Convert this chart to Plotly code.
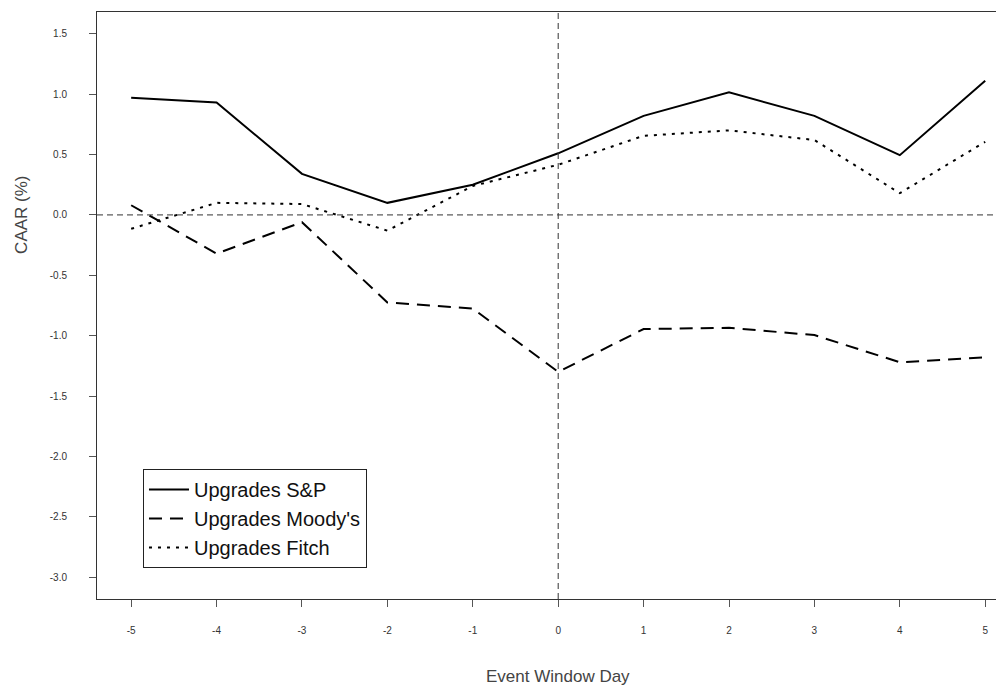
import plotly.graph_objects as go

days = [-5, -4, -3, -2, -1, 0, 1, 2, 3, 4, 5]
sp_vals = [0.97, 0.93, 0.34, 0.10, 0.25, 0.51, 0.82, 1.015, 0.82, 0.495, 1.11]
moodys_vals = [0.08, -0.32, -0.06, -0.725, -0.775, -1.30, -0.945, -0.935, -0.995, -1.22, -1.18]
fitch_vals = [-0.115, 0.10, 0.09, -0.13, 0.24, 0.415, 0.655, 0.70, 0.62, 0.18, 0.605]
series_names = ["Upgrades S&P", "Upgrades Moody's", "Upgrades Fitch"]
y_ticks = [1.5, 1.0, 0.5, 0.0, -0.5, -1.0, -1.5, -2.0, -2.5, -3.0]
y_ticklabels = ["1.5", "1.0", "0.5", "0.0", "-0.5", "-1.0", "-1.5", "-2.0", "-2.5", "-3.0"]

FONT = "Liberation Sans, Arial, sans-serif"

fig = go.Figure()
fig.add_trace(go.Scatter(x=days, y=sp_vals, mode="lines", name=series_names[0],
                         line=dict(color="black", width=2, dash="solid")))
fig.add_trace(go.Scatter(x=days, y=moodys_vals, mode="lines", name=series_names[1],
                         line=dict(color="black", width=2, dash="13px,8px")))
fig.add_trace(go.Scatter(x=days, y=fitch_vals, mode="lines", name=series_names[2],
                         line=dict(color="black", width=2, dash="3px,6px")))

# reference lines at 0
fig.add_hline(y=0, line=dict(color="#333333", width=1, dash="6px,4px"))
fig.add_vline(x=0, line=dict(color="#333333", width=1, dash="6px,4px"))

fig.update_layout(
    width=996, height=678,
    margin=dict(l=89, r=0, t=4, b=87),
    paper_bgcolor="white", plot_bgcolor="white",
    font=dict(family=FONT, color="#333333"),
    showlegend=True,
    legend=dict(x=0.0507, y=0.0528, xanchor="left", yanchor="bottom",
                bordercolor="#222222", borderwidth=1, bgcolor="white",
                font=dict(size=20, color="#111111", family=FONT),
                tracegroupgap=0, itemwidth=40),
    annotations=[
        dict(text="Event Window Day", x=0, xref="x", y=-0.132, yref="paper",
             xanchor="center", yanchor="middle", showarrow=False,
             font=dict(size=17, color="#444444", family=FONT)),
        dict(text="CAAR (%)", x=-0.0827, xref="paper", y=0.0, yref="y",
             xanchor="center", yanchor="middle", showarrow=False, textangle=-90,
             font=dict(size=17, color="#444444", family=FONT)),
    ],
)

fig.update_xaxes(range=[-5.4, 5.22], tickvals=days, ticktext=[str(d) for d in days],
                 showgrid=False, zeroline=False, showline=True, linecolor="#333333",
                 linewidth=1, mirror=True, ticks="outside", ticklen=7, tickcolor="#555555",
                 tickfont=dict(size=10, color="#333333", family=FONT),
                 ticklabelstandoff=15)
fig.update_yaxes(range=[-3.18, 1.68], tickvals=y_ticks, ticktext=y_ticklabels,
                 showgrid=False, zeroline=False, showline=True, linecolor="#333333",
                 linewidth=1, mirror=False, ticks="outside", ticklen=7, tickcolor="#555555",
                 tickfont=dict(size=10, color="#333333", family=FONT),
                 ticklabelstandoff=20)

fig.write_html("out.html")
